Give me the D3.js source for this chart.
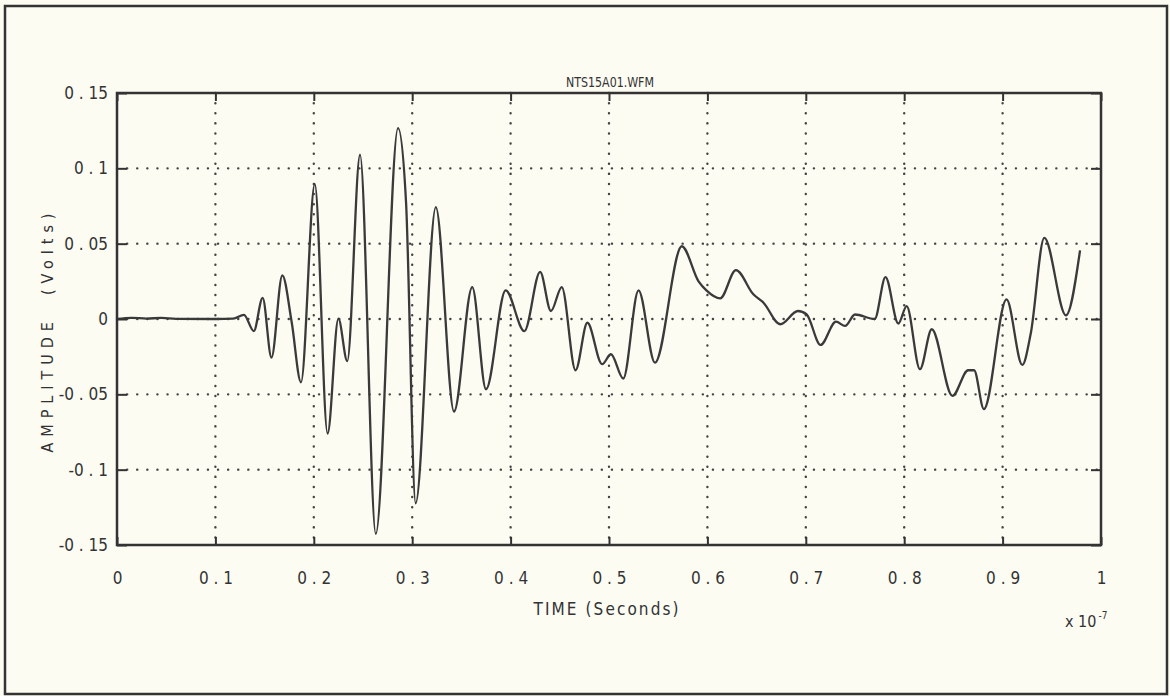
<!DOCTYPE html>
<html>
<head>
<meta charset="utf-8">
<script src="https://cdn.jsdelivr.net/npm/d3@7"></script>
<style>
  html, body { margin: 0; padding: 0; background: #fcfcf3; }
  svg { display: block; }
  text { font-family: 'Liberation Sans Narrow', 'DejaVu Sans Condensed', 'Liberation Sans', sans-serif; fill: #333; white-space: pre; }
</style>
</head>
<body>
<svg id="chart" width="1170" height="696"></svg>
<script>

// time axis in units of 1e-7 s
let timeVals = [0, 0.015, 0.03, 0.045, 0.06, 0.10, 0.118, 0.129, 0.139, 0.148,
    0.157, 0.168, 0.1775, 0.187, 0.201, 0.214, 0.225, 0.234, 0.247, 0.263,
    0.2856, 0.2937, 0.3035, 0.324, 0.3425, 0.361, 0.375, 0.395, 0.414, 0.430,
    0.441, 0.452, 0.466, 0.478, 0.493, 0.502, 0.5145, 0.530, 0.5467, 0.574,
    0.591, 0.599, 0.613, 0.629, 0.6467, 0.657, 0.674, 0.692, 0.7009, 0.715,
    0.7307, 0.740, 0.750, 0.770, 0.781, 0.794, 0.8025, 0.816, 0.828, 0.849,
    0.865, 0.871, 0.881, 0.904, 0.920, 0.9285, 0.9424, 0.9644, 0.9787];

// amplitude in volts
let ampVals = [0, 0.0008, 0.0003, 0.0007, 0.0001, 0, 0.0002, 0.0028, -0.008, 0.014,
    -0.0256, 0.029, -0.002, -0.042, 0.0896, -0.076, 0.0002, -0.028, 0.109, -0.1426,
    0.1267, 0.078, -0.1223, 0.0742, -0.0614, 0.0212, -0.0466, 0.019, -0.008, 0.0313,
    0.0053, 0.0212, -0.034, -0.0025, -0.030, -0.0234, -0.0395, 0.019, -0.029, 0.0483,
    0.025, 0.019, 0.0137, 0.0324, 0.0164, 0.0108, -0.0035, 0.0053, 0.003, -0.0172,
    -0.0018, -0.0046, 0.003, 0.0, 0.0278, -0.003, 0.0086, -0.0333, -0.0068, -0.051,
    -0.034, -0.034, -0.0598, 0.013, -0.0305, -0.010, 0.0538, 0.0024, 0.0455];

let xTicks = [0, 0.1, 0.2, 0.3, 0.4, 0.5, 0.6, 0.7, 0.8, 0.9, 1];
let xTickLabels = ["0", "0 . 1", "0 . 2", "0 . 3", "0 . 4", "0 . 5", "0 . 6", "0 . 7", "0 . 8", "0 . 9", "1"];
let yTicks = [0.15, 0.1, 0.05, 0, -0.05, -0.1, -0.15];
let yTickLabels = ["0 . 15", "0 . 1", "0 . 05", "0", "-0 . 05", "-0 . 1", "-0 . 15"];

let title = "NTS15A01.WFM";
let xLabel = "TIME (Seconds)";
let yLabel = "AMPLITUDE  (Volts)";

let svg = d3.select("#chart"),
    margin = {top: 93, right: 69, bottom: 151, left: 117},
    width = svg.attr("width") - margin.left - margin.right,
    height = svg.attr("height") - margin.top - margin.bottom;

let ink = "#333";

// outer frame
svg.append("rect")
    .attr("x", 5).attr("y", 6)
    .attr("width", 1162).attr("height", 688)
    .attr("fill", "none")
    .attr("stroke", ink)
    .attr("stroke-width", 2.5);

let x = d3.scaleLinear().domain([0, 1]).range([0, width]);
let y = d3.scaleLinear().domain([-0.15, 0.15]).range([height, 0]);

let g = svg.append("g")
    .attr("transform", "translate(" + margin.left + "," + margin.top + ")");

// dotted grid
g.append("g").selectAll("line")
    .data(xTicks.slice(1, -1))
    .enter().append("line")
    .attr("x1", d => x(d)).attr("x2", d => x(d))
    .attr("y1", 0).attr("y2", height)
    .attr("stroke", "#444")
    .attr("stroke-width", 2.4)
    .attr("stroke-linecap", "round")
    .attr("stroke-dasharray", "0.1,10");

g.append("g").selectAll("line")
    .data(yTicks.slice(1, -1))
    .enter().append("line")
    .attr("x1", 0).attr("x2", width)
    .attr("y1", d => y(d)).attr("y2", d => y(d))
    .attr("stroke", "#444")
    .attr("stroke-width", 2.4)
    .attr("stroke-linecap", "round")
    .attr("stroke-dasharray", "0.1,10");

// waveform
let line = d3.line()
    .x((d, i) => x(timeVals[i]))
    .y(d => y(d))
    .curve(d3.curveMonotoneX);

g.append("path")
    .datum(ampVals)
    .attr("fill", "none")
    .attr("stroke", "#3a3a3a")
    .attr("stroke-width", 2.3)
    .attr("stroke-linejoin", "round")
    .attr("d", line);

// axes, ticks pointing inward
let xAxis = d3.axisBottom(x).tickValues(xTicks).tickSize(-8).tickPadding(27)
    .tickFormat((d, i) => xTickLabels[i]);
let yAxis = d3.axisLeft(y).tickValues(yTicks).tickSize(-10).tickPadding(9)
    .tickFormat((d, i) => yTickLabels[i]);

g.append("g")
    .attr("transform", "translate(0," + height + ")")
    .call(xAxis);
g.append("g")
    .call(d3.axisTop(x).tickValues(xTicks).tickSize(-8).tickFormat(""));
g.append("g")
    .call(yAxis);
g.append("g")
    .attr("transform", "translate(" + width + ",0)")
    .call(d3.axisRight(y).tickValues(yTicks).tickSize(-10).tickFormat(""));

g.selectAll(".domain").remove();
g.selectAll(".tick line").attr("stroke", ink).attr("stroke-width", 2);
g.selectAll(".tick text")
    .attr("fill", ink)
    .style("font-size", "17px");

// plot box
g.append("rect")
    .attr("width", width).attr("height", height)
    .attr("fill", "none")
    .attr("stroke", ink)
    .attr("stroke-width", 2.5);

// title
svg.append("text")
    .attr("x", 610)
    .attr("y", 87)
    .attr("text-anchor", "middle")
    .attr("textLength", 88)
    .attr("lengthAdjust", "spacingAndGlyphs")
    .style("font-size", "14px")
    .text(title);

// x label
svg.append("text")
    .attr("x", 606)
    .attr("y", 615)
    .attr("text-anchor", "middle")
    .attr("textLength", 145)
    .attr("lengthAdjust", "spacing")
    .style("font-size", "17px")
    .text(xLabel);

// y label
svg.append("text")
    .attr("transform", "translate(53," + 333 + ") rotate(-90)")
    .attr("text-anchor", "middle")
    .attr("textLength", 239)
    .attr("lengthAdjust", "spacing")
    .style("font-size", "16px")
    .text(yLabel);

// exponent note
let note = svg.append("text")
    .attr("x", 1065)
    .attr("y", 627)
    .style("font-size", "16px");
note.append("tspan").text("x 10");
note.append("tspan")
    .attr("dy", -8)
    .attr("dx", 2)
    .style("font-size", "10px")
    .text("-7");

</script>
</body>
</html>
